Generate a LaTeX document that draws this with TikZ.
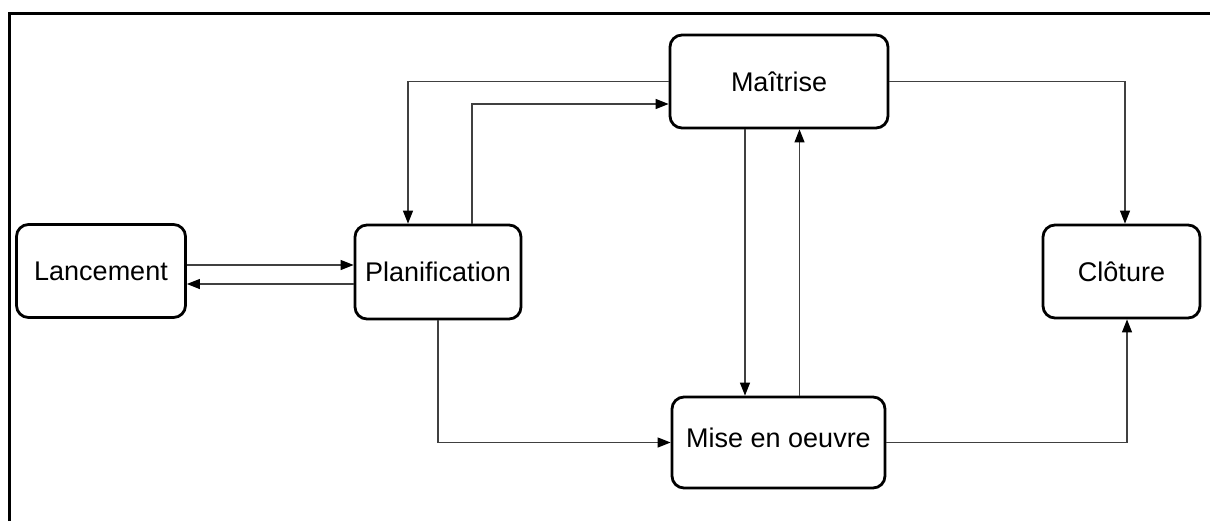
\documentclass[tikz,border=0pt]{standalone}
\usepackage{fontspec}
\setmainfont{Liberation Sans}
\usetikzlibrary{arrows.meta}

\begin{document}
\begin{tikzpicture}[x=0.5pt, y=-0.5pt,
        phase/.style={draw, line width=1.4pt, rounded corners=6pt, inner sep=0pt, font=\fontsize{13.5}{16}\selectfont},
        link/.style={-{Triangle[length=6.5pt,width=5pt,color=black]}, line width=0.6pt, draw=black!75}]
            \useasboundingbox (0,0) rectangle (1210,521);
            % frame (only top and left edges show)
            \draw[line width=1.5pt] (9,521) -- (9,13) -- (1210,13);
            % project phases
            \node[phase, minimum width=84.5pt, minimum height=46.5pt] (lanc) at (101,271) {Lancement};
            \node[phase, minimum width=83pt, minimum height=47pt] (plan) at (438,272) {Planification};
            \node[phase, minimum width=109pt, minimum height=46.5pt] (maitrise) at (779,81.5) {Maîtrise};
            \node[phase, minimum width=106.5pt, minimum height=45.5pt, text depth=5pt] (mise) at (778.5,442.5) {Mise en oeuvre};
            \node[phase, minimum width=78.5pt, minimum height=46.5pt] (cloture) at (1121.5,271.5) {Clôture};
            
            \draw[link] ([yshift=3pt]lanc.east) -- ([yshift=3pt]lanc.east -| plan.west);
            \draw[link] ([yshift=-6pt]plan.west) -- ([yshift=-6pt]plan.west -| lanc.east);
            \draw[link] (maitrise.west) -| ([xshift=-15pt]plan.north);
            \draw[link] ([xshift=17pt]plan.north) |- ([yshift=-11.25pt]maitrise.west);
            \draw[link] ([xshift=-17pt]maitrise.south) -- ([xshift=-17pt]maitrise.south |- mise.north);
            \draw[link] ([xshift=10.5pt]mise.north) -- ([xshift=10.5pt]mise.north |- maitrise.south);
            \draw[link] (plan.south) |- (mise.west);
            \draw[link] (maitrise.east) -| ([xshift=1.75pt]cloture.north);
            \draw[link] (mise.east) -| ([xshift=2.75pt]cloture.south);
        \end{tikzpicture}
\end{document}
